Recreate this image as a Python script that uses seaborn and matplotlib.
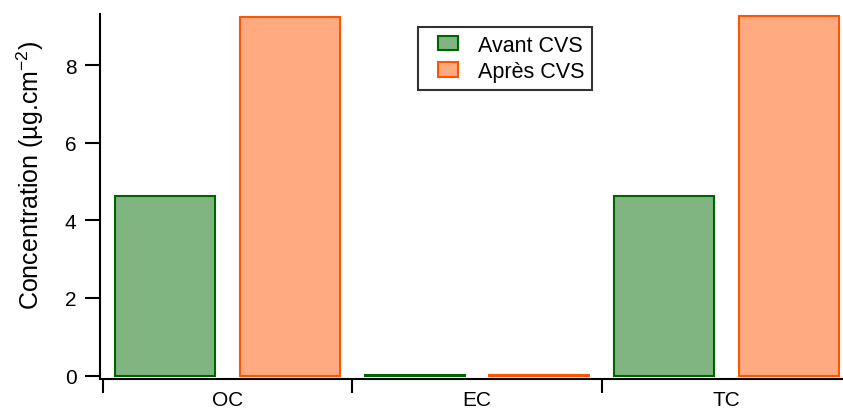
import matplotlib
matplotlib.use("Agg")
import matplotlib.pyplot as plt
from matplotlib.patches import Patch, Rectangle
from matplotlib.legend_handler import HandlerPatch
from matplotlib.ticker import FixedLocator
import pandas as pd
import seaborn as sns

# values
categories = ["OC", "EC", "TC"]
avant = [4.62, 0.01, 4.62]
apres = [9.25, 0.01, 9.28]
series = ["Avant CVS", "Après CVS"]
y_ticks = [0, 2, 4, 6, 8]

fill_colors = ["#80B480", "#FFAA80"]
edge_colors = ["#006400", "#FF5500"]

df = pd.DataFrame({
    "cat": categories * 2,
    "val": avant + apres,
    "serie": [series[0]] * 3 + [series[1]] * 3,
})

sns.set_style("ticks", {"axes.labelcolor": "black", "xtick.color": "black",
                        "ytick.color": "black", "text.color": "black",
                        "axes.edgecolor": "black"})
plt.rcParams["font.family"] = ["Liberation Sans", "DejaVu Sans"]
plt.rcParams["mathtext.default"] = "regular"

fig = plt.figure(figsize=(8.43, 4.10), dpi=100)
ax = fig.add_axes([100 / 843, 30 / 410, 743 / 843, 365 / 410])

sns.barplot(data=df, x="cat", y="val", hue="serie", palette=fill_colors,
            saturation=1, width=1.0, gap=0.2, ax=ax, legend=False)

for cont, ec in zip(ax.containers, edge_colors):
    for bar in cont:
        bar.set_edgecolor(ec)
        bar.set_linewidth(1.5)

ax.set_xlim(-0.512, 2.468)
ax.set_ylim(-0.09, 9.32)

ax.spines["top"].set_visible(False)
ax.spines["right"].set_visible(False)
for s in ["left", "bottom"]:
    ax.spines[s].set_linewidth(1.5)

ax.set_yticks(y_ticks)
ax.tick_params(axis="y", direction="out", length=11, width=1.5, pad=6, labelsize=15)
ax.set_xticks(range(len(categories)))
ax.set_xticklabels(categories)
ax.xaxis.set_minor_locator(FixedLocator([-0.5, 0.5, 1.5, 2.5]))
ax.tick_params(axis="x", which="major", length=0, pad=8, labelsize=15)
ax.tick_params(axis="x", which="minor", direction="out", length=10, width=1.5)

ax.set_xlabel("")
ax.set_ylabel("Concentration (µg.cm$^{-2}$)", fontsize=18)
ax.yaxis.set_label_coords(-0.073, 0.56)


# legend square sits at the right of a wider handle box (Igor style spacing)
def small_box(legend, orig_handle, xdescent, ydescent, width, height, fontsize):
    pw = 20 / 100 * 72
    return Rectangle((width - pw - xdescent, -ydescent), pw, height)


handles = [Patch(facecolor=f, edgecolor=e, linewidth=1.5) for f, e in zip(fill_colors, edge_colors)]
leg = ax.legend(handles, series, loc="upper left", bbox_to_anchor=(0.428, 0.964),
                borderaxespad=0, fancybox=False, frameon=True, fontsize=15.5,
                handlelength=1.51, handleheight=0.65, handletextpad=0.93,
                labelspacing=0.25, borderpad=0.35,
                handler_map={Patch: HandlerPatch(patch_func=small_box)})
leg.get_frame().set_edgecolor("black")
leg.get_frame().set_linewidth(1.5)

fig.savefig("out.png", dpi=100)
